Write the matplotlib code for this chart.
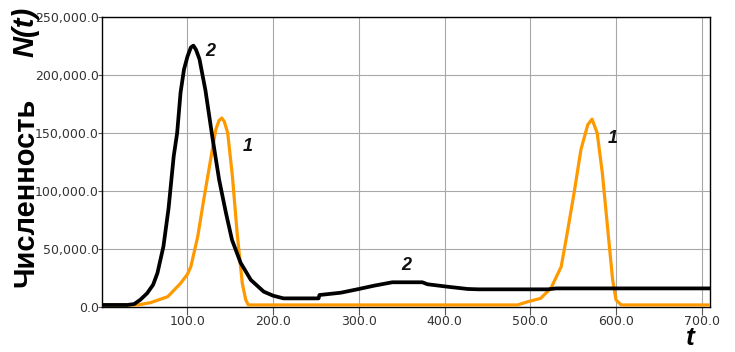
import matplotlib
matplotlib.use('Agg')
import matplotlib.pyplot as plt
from matplotlib.ticker import FuncFormatter
import numpy as np

# curve 2 (black)
t2 = [0, 30, 38, 45, 53, 60, 65, 72, 78, 84, 88, 92, 96, 100, 104, 107, 110, 114,
      121, 129, 137, 145, 152, 162, 174, 189, 200, 212, 240, 253, 254, 279, 298,
      318, 339, 374, 380, 403, 427, 440, 520, 530, 709]
n2 = [1500, 1500, 2300, 6000, 11600, 19000, 29000, 52000, 85000, 130000, 150000,
      185000, 205000, 216000, 224000, 225500, 222000, 214000, 187000, 147000,
      109600, 80800, 57700, 38000, 23100, 13000, 9500, 7200, 7200, 7200, 10100,
      12100, 15000, 18200, 21100, 21100, 19400, 17300, 15300, 15000, 15000, 15800,
      15800]

# curve 1 (orange)
t1 = [0, 42, 57, 77, 92, 100, 104, 112, 119, 127, 133, 137, 140, 143, 147, 152.5,
      158, 164, 168, 171, 485, 497, 512, 524, 536, 543, 551, 559, 567, 572, 578,
      584, 590, 596, 600, 606, 709]
n1 = [1500, 1500, 3500, 8650, 20200, 28000, 34600, 60500, 92300, 126900, 152900,
      161000, 163000, 160000, 150000, 112500, 63500, 20200, 6000, 1500, 1500, 4300,
      7200, 15900, 34600, 63500, 98100, 135600, 157200, 162000, 150000, 115400,
      69200, 23100, 5800, 1500, 1500]

xticks = [100, 200, 300, 400, 500, 600, 700]
yticks = [0, 50000, 100000, 150000, 200000, 250000]

# curve labels: text, t, N
labels = [('2', 127, 220600), ('1', 170, 138400), ('2', 355, 36000), ('1', 596, 145700)]

W, H = 735, 352
fig = plt.figure(figsize=(W / 100, H / 100), dpi=100)
ax = fig.add_axes([101.7 / W, 1 - 306.7 / H, (709.5 - 101.7) / W, (306.7 - 17.3) / H])

ax.plot(t1, n1, color='#ff9900', lw=2.3, solid_joinstyle='round', zorder=3)
ax.plot(t2, n2, color='black', lw=2.7, solid_joinstyle='round', zorder=4)

for s, tx, ny in labels:
    ax.text(tx, ny, s, fontsize=13, fontweight='bold', fontstyle='italic',
            family='Liberation Sans', color='#111111', ha='center', va='center', zorder=5)

ax.set_xlim(0, 709)
ax.set_ylim(0, 250000)
ax.set_xticks(xticks)
ax.set_yticks(yticks)
ax.xaxis.set_major_formatter(FuncFormatter(lambda v, p: '{:.1f}'.format(v)))
ax.yaxis.set_major_formatter(FuncFormatter(lambda v, p: '{:,.1f}'.format(v)))
ax.grid(True, color='#a8a8a8', lw=0.8)
ax.set_axisbelow(True)
ax.tick_params(axis='x', direction='out', length=6, width=0.8, pad=0,
               labelsize=9, labelcolor='#333333', color='#555555')
ax.tick_params(axis='y', direction='out', length=3, width=0.8, pad=-1,
               labelsize=9, labelcolor='#333333', color='#555555')
for sp in ax.spines.values():
    sp.set_linewidth(1.0)
    sp.set_color('black')

fig.text(25 / W, 1 - 287 / H, 'Численность', rotation=90, fontsize=21,
         fontweight='bold', family='Liberation Sans', ha='center', va='bottom')
fig.text(25 / W, 1 - 7 / H, 'N(t)', rotation=90, fontsize=21, fontweight='bold',
         fontstyle='italic', family='Liberation Sans', ha='center', va='top')
fig.text(690 / W, 1 - 345 / H, 't', fontsize=19, fontweight='bold',
         fontstyle='italic', family='Liberation Sans', ha='center', va='baseline')

fig.savefig('out.png', dpi=100)
